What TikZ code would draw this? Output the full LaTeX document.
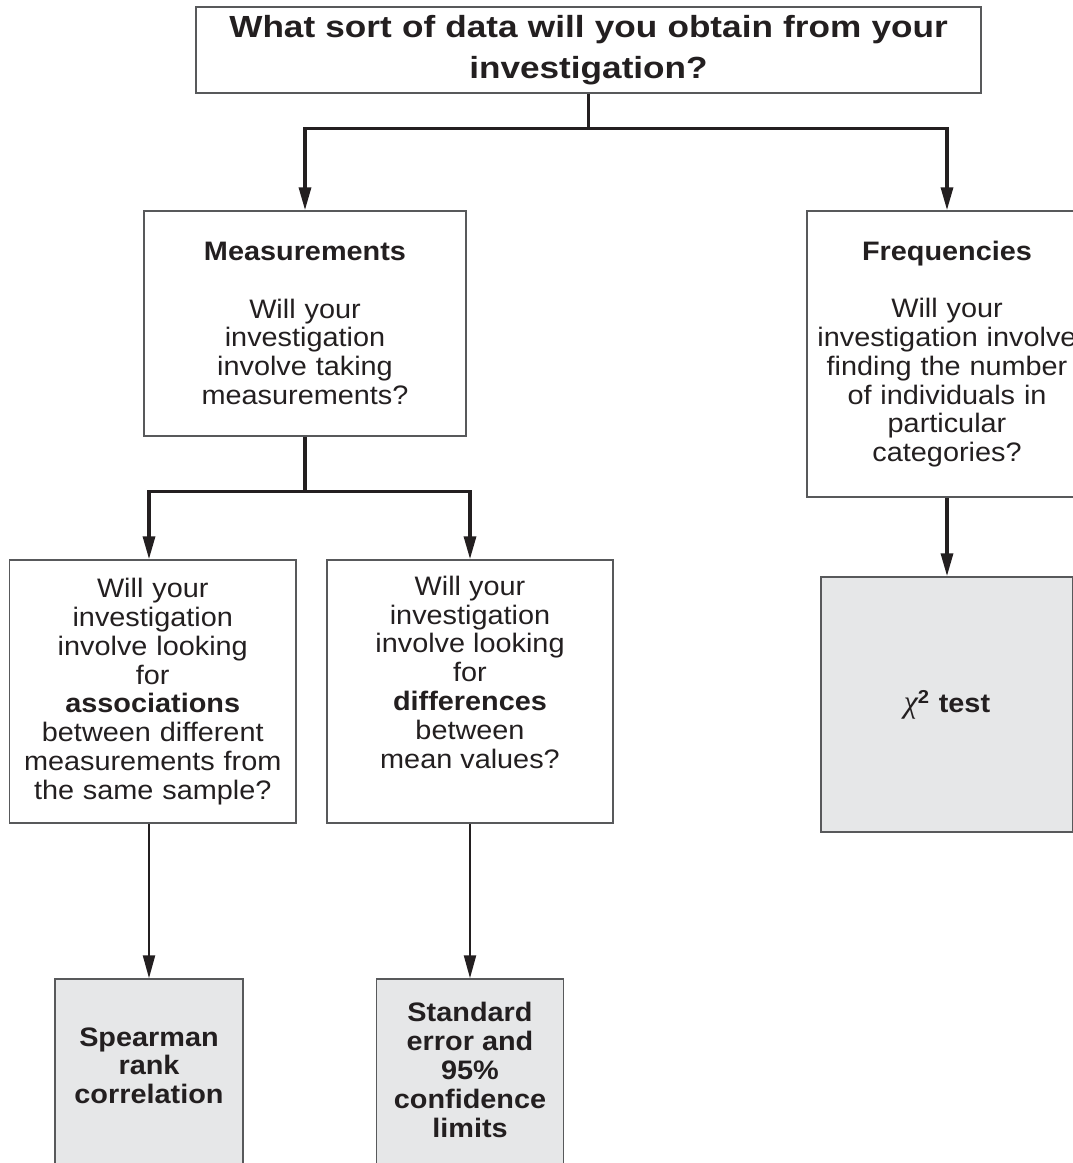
\documentclass[tikz,border=0pt]{standalone}
\usepackage{fontspec}
\setmainfont{Liberation Sans}[FakeStretch=1.08]
\newfontfamily\titlefont{Liberation Sans}[FakeStretch=1.15]
\newfontfamily\greekfont{Liberation Serif}
\usepackage{xcolor}
\usepackage{tikz}
\usetikzlibrary{positioning}
\usetikzlibrary{arrows.meta}
\definecolor{inkdark}{HTML}{231F20}
\definecolor{boxline}{HTML}{58595B}
\definecolor{resultgrey}{HTML}{E6E7E8}

\begin{document}
\begin{tikzpicture}[node distance=1cm, on grid, every node/.style={text=inkdark},
      qbox/.style={draw=boxline, line width=0.85pt, inner sep=0pt, align=center,
        font=\fontsize{15.2}{16.4}\selectfont},
      rbox/.style={qbox, fill=resultgrey, font=\bfseries\fontsize{15.2}{16.4}\selectfont},
      tree/.style={draw=inkdark, line width=1.9pt},
      thin/.style={draw=inkdark, line width=1.3pt},
      flowarrow/.style={-{Triangle[length=0.46cm, width=0.24cm]}}]

      \useasboundingbox (0,0) rectangle (21.44,-23.26);

      \node[qbox, font=\titlefont\bfseries\fontsize{17.4}{23.2}\selectfont, text width=15.7cm, minimum height=1.72cm] (top) at (11.77,-1.0) {What sort of data will you obtain from your\\investigation?};

      \node[qbox, text width=6.44cm, minimum height=4.5cm] (meas) [below=of top, xshift=-5.67cm, yshift=-4.47cm] {\textbf{Measurements}\\[16.4pt]Will your\\investigation\\involve taking\\measurements?};
      \node[qbox, text width=5.6cm, minimum height=5.72cm] (freq) [below=of top, xshift=7.17cm, yshift=-5.08cm] {\textbf{Frequencies}\\[16.4pt]Will your\\investigation involve\\finding the number\\of individuals in\\particular\\categories?};

      \node[qbox, text width=5.73cm, minimum height=5.26cm] (assoc) [below=of meas, xshift=-3.045cm, yshift=-6.36cm] {Will your\\investigation\\involve looking\\for\\\textbf{associations}\\between different\\measurements from\\the same sample?};
      \node[qbox] (diff) [below=of meas, xshift=3.3cm, yshift=-6.36cm] {\parbox[c][5.26cm][t]{5.72cm}{\centering\vspace*{9pt}Will your\\investigation\\involve looking\\for\\\textbf{differences}\\between\\mean values?}};

      \node[rbox] (spear) [below=of assoc, xshift=-0.075cm, yshift=-7.3cm] {\parbox[c][5.1cm][t]{3.76cm}{\centering\vspace*{27.6pt}Spearman\\rank\\correlation}};
      \node[rbox] (stderr) [below=of diff, yshift=-7.3cm] {\parbox[c][5.1cm][t]{3.74cm}{\centering\vspace*{13.4pt}Standard\\error and\\95\%\\confidence\\limits}};
      \node[rbox, text width=5.04cm, minimum height=5.1cm] (chi) [below=of freq, yshift=-6.01cm] {{\greekfont\mdseries\itshape\fontsize{18}{16.4}\selectfont χ}\textsuperscript{2} test};

      \coordinate[below=0.7cm of top.south] (tsplit);
      \coordinate[below=1.1cm of meas.south] (msplit);

      \draw[tree] (top.south) -- (tsplit);
      \draw[tree, flowarrow] (tsplit) -| (meas.north);
      \draw[tree, flowarrow] (tsplit) -| (freq.north);
      \draw[tree] (meas.south) -- (msplit);
      \draw[tree, flowarrow] (msplit) -| (spear.north |- assoc.north);
      \draw[tree, flowarrow] (msplit) -| (stderr.north |- diff.north);

      \path[flowarrow]
        (freq) edge [tree] (chi)
        (assoc.south -| spear.north) edge [thin] (spear.north)
        (diff.south -| stderr.north) edge [thin] (stderr.north)
        ;

\end{tikzpicture}
\end{document}
